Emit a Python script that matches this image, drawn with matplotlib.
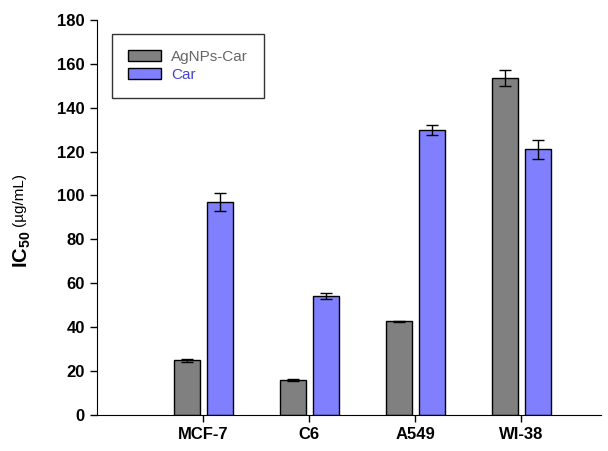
import numpy as np
import matplotlib.pyplot as plt

plt.rcParams['font.family'] = ['Liberation Sans', 'DejaVu Sans']
plt.rcParams['mathtext.fontset'] = 'custom'
plt.rcParams['mathtext.rm'] = 'Liberation Sans'
plt.rcParams['mathtext.bf'] = 'Liberation Sans:bold'

cells = ['MCF-7', 'C6', 'A549', 'WI-38']
agnps = [24.8, 16.0, 42.6, 153.5]
agnps_err = [0.8, 0.5, 0.3, 3.5]
car = [97.0, 54.2, 130.0, 121.0]
car_err = [4.2, 1.4, 2.3, 4.3]
yticks = [0, 20, 40, 60, 80, 100, 120, 140, 160, 180]

fig = plt.figure(figsize=(6.08, 4.51), dpi=100)
ax = fig.add_axes([0.16, 0.08, 0.828, 0.876])

x = np.arange(1, len(cells) + 1)
w = 0.245
off = 0.155
ax.bar(x - off, agnps, w, color='#808080', edgecolor='black', linewidth=1.0,
       yerr=agnps_err, capsize=4, error_kw=dict(elinewidth=1, capthick=1),
       label='AgNPs-Car', zorder=2)
ax.bar(x + off, car, w, color='#8080ff', edgecolor='black', linewidth=1.0,
       yerr=car_err, capsize=4, error_kw=dict(elinewidth=1, capthick=1),
       label='Car', zorder=2)

ax.set_xlim(0, 4.75)
ax.set_ylim(0, 180)
ax.set_xticks(x)
ax.set_xticklabels(cells, fontsize=12, fontweight='bold')
ax.set_yticks(yticks)
ax.set_yticklabels([str(t) for t in yticks], fontsize=12, fontweight='bold')
ax.tick_params(direction='out', length=5, width=1, pad=4)
ax.spines['top'].set_visible(False)
ax.spines['right'].set_visible(False)

# y label: big bold IC50 plus smaller unit text
fig.text(0.036, 0.447, r'$\mathbf{IC_{50}}$', rotation=90, fontsize=14.5,
         ha='center', va='center')
fig.text(0.032, 0.557, '(µg/mL)', rotation=90, fontsize=11,
         ha='center', va='center')

leg = ax.legend(loc='upper left', bbox_to_anchor=(0.03, 0.965), fontsize=11,
                frameon=True, fancybox=False, edgecolor='black',
                handlelength=2.15, handleheight=0.7, handletextpad=0.65,
                borderpad=1.05, labelspacing=0.25, borderaxespad=0)
leg.get_frame().set_linewidth(1.0)
leg.get_texts()[0].set_color('#666666')
leg.get_texts()[1].set_color('#4444cc')

fig.savefig('out.png', dpi=100)
